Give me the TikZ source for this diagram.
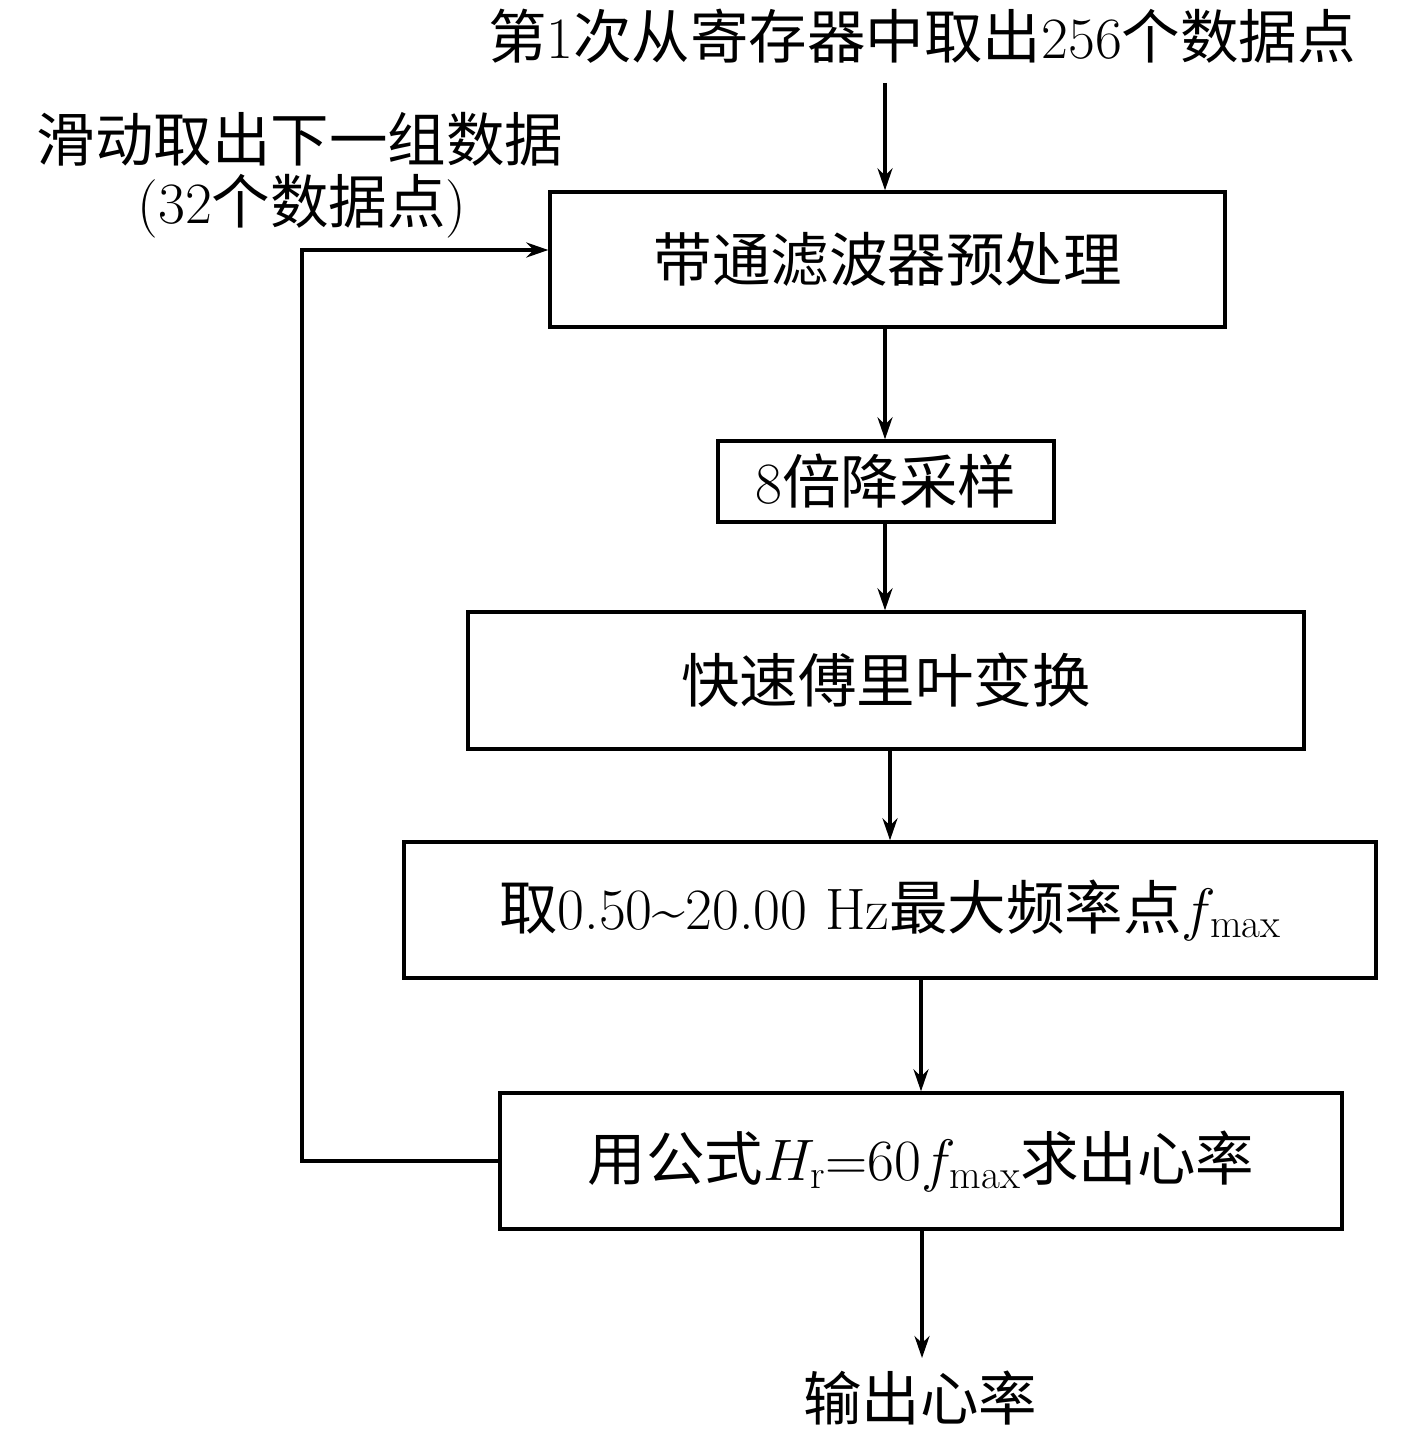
\RequirePackage{fix-cm}
\documentclass[tikz,border=0pt]{standalone}
\usepackage{fontspec}
\usetikzlibrary{arrows.meta}
\newfontfamily\cjk{Noto Sans CJK SC}
\begin{document}
\begin{tikzpicture}[x=1pt,y=-1pt,
  box/.style={draw,line width=3.4pt,inner sep=0pt,font=\fontsize{58.5}{70}\selectfont},
  lbl/.style={inner sep=0pt,font=\fontsize{58.5}{70}\selectfont},
  arr/.style={line width=3.4pt,-{Stealth[length=22pt,width=15pt]}}]
\useasboundingbox[fill=white] (0,0) rectangle (1417,1431);
\node[lbl] (top) at (922,36) {{\cjk 第}1{\cjk 次从寄存器中取出}256{\cjk 个数据点}};
\node[lbl] (slide) at (300,139) {\cjk 滑动取出下一组数据};
\node[lbl] (slide2) at (302,206) {(32{\cjk 个数据点})};
\node[box,minimum width=675pt,minimum height=135pt] (b1) at (887.5,259.5) {\cjk 带通滤波器预处理};
\node[box,minimum width=336pt,minimum height=81pt] (b2) at (886,481.5) {8{\cjk 倍降采样}};
\node[box,minimum width=836pt,minimum height=137pt] (b3) at (886,680.5) {\cjk 快速傅里叶变换};
\node[box,minimum width=972pt,minimum height=136pt] (b4) at (890,910) {{\cjk 取}0.50\textasciitilde 20.00 Hz{\cjk 最大频率点}$f_{\max}$};
\node[box,minimum width=842pt,minimum height=136pt] (b5) at (921,1161) {{\cjk 用公式}$H_{\mathrm{r}}{=}60f_{\max}${\cjk 求出心率}};
\node[lbl] (out) at (920,1398) {\cjk 输出心率};
\coordinate (topend) at (885,83);
\coordinate (outend) at (922,1358);
\coordinate (cornerA) at (302,1161);
\coordinate (cornerB) at (302,250);
\draw[arr] (topend) -- (b1.north -| topend);
\draw[arr] (b1.south -| topend) -- (b2.north -| topend);
\draw[arr] (b2.south -| topend) -- (b3.north -| topend);
\draw[arr] (b3.south -| b4.north) -- (b4.north);
\draw[arr] (b4.south -| b5.north) -- (b5.north);
\draw[arr] (b5.south -| outend) -- (outend);
\draw[arr] (b5.west) -- (cornerA) -- (cornerB) -- (b1.west |- cornerB);
\end{tikzpicture}
\end{document}
